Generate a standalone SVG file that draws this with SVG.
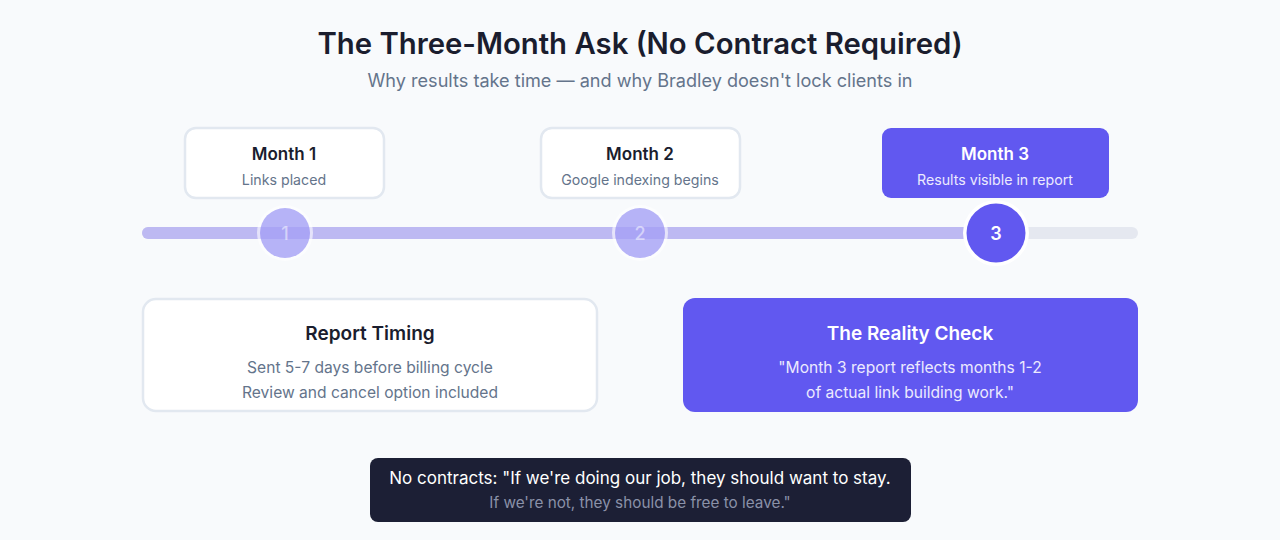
<svg xmlns="http://www.w3.org/2000/svg" width="1280" height="540" viewBox="0 0 1280 540">
<style>
text{font-family:Inter,"Noto Sans","Liberation Sans",sans-serif;text-anchor:middle}
.card{fill:#ffffff;stroke:#e2e8f0;stroke-width:2.5}
.accent{fill:#6158f0}
.h{font-weight:600;fill:#1a1d2e}
.sub{fill:#64748b}
.hw{font-weight:600;fill:#ffffff}
.sw{fill:#eceafe}
</style>
<rect width="1280" height="540" fill="#f8fafc"/>
<g id="title">
<text x="640" y="54" font-size="29.3" class="h">The Three-Month Ask (No Contract Required)</text>
<text x="640" y="87" font-size="18.1" class="sub">Why results take time — and why Bradley doesn't lock clients in</text>
</g>
<g id="connectors">
<rect x="142" y="227" width="996" height="12" rx="6" fill="#e5e8f0"/>
<rect x="142" y="227" width="858" height="12" rx="6" fill="#bdb9f2"/>
</g>
<g id="month1">
<rect class="card" x="185" y="128" width="199" height="70" rx="11"/>
<text x="284" y="160" font-size="17" class="h">Month 1</text>
<text x="284" y="185" font-size="14.2" class="sub">Links placed</text>
</g>
<g id="month2">
<rect class="card" x="541" y="128" width="199" height="70" rx="11"/>
<text x="640" y="160" font-size="17" class="h">Month 2</text>
<text x="640" y="185" font-size="14.2" class="sub">Google indexing begins</text>
</g>
<g id="month3">
<rect class="accent" x="882" y="128" width="227" height="70" rx="9"/>
<text x="995" y="160" font-size="17" class="hw">Month 3</text>
<text x="995" y="185" font-size="14.2" class="sw">Results visible in report</text>
</g>
<g id="step1">
<circle cx="285" cy="233" r="28" fill="#ffffff" opacity="0.6"/>
<circle cx="285" cy="233" r="25" fill="#6158f0" opacity="0.45"/>
<text x="285" y="240" font-size="18" fill="#ffffff" opacity="0.5" font-weight="500">1</text>
</g>
<g id="step2">
<circle cx="640" cy="233" r="28" fill="#ffffff" opacity="0.6"/>
<circle cx="640" cy="233" r="25" fill="#6158f0" opacity="0.45"/>
<text x="640" y="240" font-size="18" fill="#ffffff" opacity="0.5" font-weight="500">2</text>
</g>
<g id="step3">
<circle cx="996" cy="233" r="33" fill="#ffffff"/>
<circle cx="996" cy="233" r="29.5" fill="#6158f0"/>
<text x="996" y="240" font-size="18" class="hw">3</text>
</g>
<g id="report-timing">
<rect class="card" x="143" y="299" width="454" height="112" rx="13"/>
<text x="370" y="340" font-size="19" class="h">Report Timing</text>
<text x="370" y="373" font-size="15.6" class="sub">Sent 5-7 days before billing cycle</text>
<text x="370" y="398" font-size="15.6" class="sub">Review and cancel option included</text>
</g>
<g id="reality-check">
<rect class="accent" x="683" y="298" width="455" height="114" rx="12"/>
<text x="910" y="340" font-size="19" class="hw">The Reality Check</text>
<text x="910" y="373" font-size="15.6" class="sw">"Month 3 report reflects months 1-2</text>
<text x="910" y="398" font-size="15.6" class="sw">of actual link building work."</text>
</g>
<g id="no-contracts">
<rect x="370" y="458" width="541" height="64" rx="8" fill="#1c1f35"/>
<text x="640" y="484" font-size="17" fill="#ffffff">No contracts: "If we're doing our job, they should want to stay.</text>
<text x="640" y="508" font-size="15.3" fill="#8a91a8">If we're not, they should be free to leave."</text>
</g>
</svg>
